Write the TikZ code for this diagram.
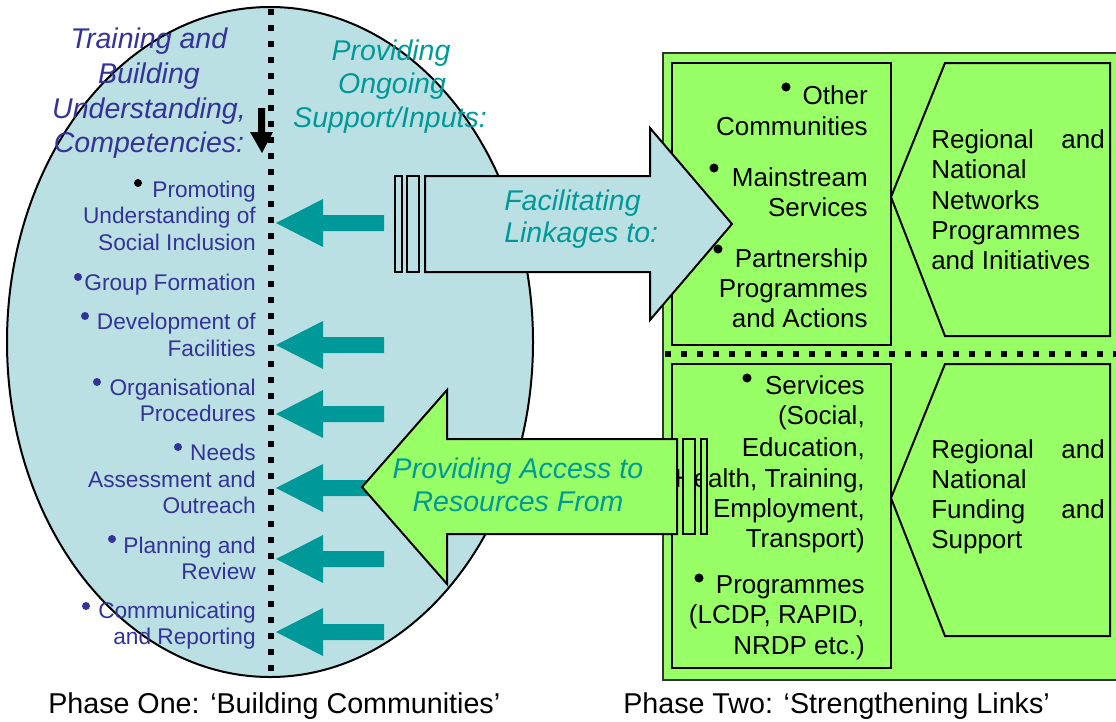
\documentclass[tikz,border=0pt]{standalone}
\usepackage{fontspec}
\setmainfont{Liberation Sans}
\definecolor{lblue}{RGB}{187,224,227}
\definecolor{lgreen}{RGB}{153,255,102}
\definecolor{tealc}{RGB}{0,153,153}
\definecolor{dblue}{RGB}{51,51,153}
\tikzset{
  lefttxt/.style={font=\fontsize{17}{20}\selectfont, text=dblue, inner sep=0pt, anchor=base east},
  righttxt/.style={font=\fontsize{19.5}{22.5}\selectfont, inner sep=0pt, anchor=base east},
  hexl/.style={font=\fontsize{19.5}{22.5}\selectfont, inner sep=0pt, anchor=base west},
  hexr/.style={font=\fontsize{19.5}{22.5}\selectfont, inner sep=0pt, anchor=base east},
  headtxt/.style={font=\fontsize{21.4}{25}\selectfont\itshape, inner sep=0pt, anchor=base},
  captxt/.style={font=\fontsize{21.5}{25}\selectfont, inner sep=0pt, anchor=base west},
  outl/.style={draw=black, line width=1.5pt},
  dotline/.style={line width=4.9pt, dash pattern=on 4.5pt off 7.5pt},
  lbul/.style={fill=dblue},
  rbul/.style={fill=black},
}
\begin{document}
\begin{tikzpicture}[x=0.75pt,y=-0.75pt]
\useasboundingbox (0,0) rectangle (1116,721);
% ellipse
\draw[outl, fill=lblue] (270,342) ellipse [x radius=197.25pt, y radius=251.25pt];
% vertical dotted line
\draw[dotline] (271,9) -- (271,680);
% black down arrow
\fill[black] (258,108) -- (265,108) -- (265,132) -- (273,132) -- (262,153) -- (250,132) -- (258,132) -- cycle;
% headings
\node[headtxt, text=dblue] (h1) at (149,48) {Training and};
\node[headtxt, text=dblue] (h2) at (149,83) {Building};
\node[headtxt, text=dblue] (h3) at (149,118) {Understanding,};
\node[headtxt, text=dblue] (h4) at (149,152) {Competencies:};
\node[headtxt, text=tealc] (p1) at (391,60) {Providing};
\node[headtxt, text=tealc] (p2) at (392,93) {Ongoing};
\node[headtxt, text=tealc] (p3) at (390,127) {Support/Inputs:};
% left items
\node[lefttxt] (a1) at (256,197) {Promoting};
\node[lefttxt] (a2) at (256,223.5) {Understanding of};
\node[lefttxt] (a3) at (256,250) {Social Inclusion};
\node[lefttxt] (b1) at (256,290) {Group Formation};
\node[lefttxt] (c1) at (256,329) {Development of};
\node[lefttxt] (c2) at (256,356) {Facilities};
\node[lefttxt] (d1) at (256,395) {Organisational};
\node[lefttxt] (d2) at (256,421) {Procedures};
\node[lefttxt] (e1) at (256,460) {Needs};
\node[lefttxt] (e2) at (256,487) {Assessment and};
\node[lefttxt] (e3) at (256,513) {Outreach};
\node[lefttxt] (f1) at (256,553) {Planning and};
\node[lefttxt] (f2) at (256,579) {Review};
\node[lefttxt] (g1) at (256,618) {Communicating};
\node[lefttxt] (g2) at (256,644) {and Reporting};
\fill[rbul] (138,183) circle [radius=3pt];
\fill[lbul] (78,277) circle [radius=3pt];
\fill[lbul] (85,316) circle [radius=3pt];
\fill[lbul] (97,382) circle [radius=3pt];
\fill[lbul] (178,447) circle [radius=3pt];
\fill[lbul] (112,539) circle [radius=3pt];
\fill[lbul] (86,606) circle [radius=3pt];
% teal arrows
\foreach \yy in {223,345,414,488,559,632}
  \fill[tealc] (276,\yy) -- (323,\yy-24) -- (323,\yy-8) -- (384,\yy-8) -- (384,\yy+8) -- (323,\yy+8) -- (323,\yy+24) -- cycle;
% right green panel
\draw[draw=black!80, line width=1.5pt, fill=lgreen] (663,53) -- (1130,53) -- (1130,680) -- (663,680) -- cycle;
\draw[outl] (672,63) rectangle (891,345);
\draw[outl] (672,364) rectangle (891,668);
\draw[outl] (891,197) -- (945,63) -- (1110,63) -- (1110,336) -- (945,336) -- cycle;
\draw[outl] (891,498) -- (945,364) -- (1110,364) -- (1110,636) -- (945,636) -- cycle;
% blue arrow
\draw[outl, fill=lblue] (425,176) -- (650,176) -- (650,128) -- (732,224) -- (650,320) -- (650,272) -- (425,272) -- cycle;
\draw[outl, fill=lblue] (395,176) rectangle (402,272);
\draw[outl, fill=lblue] (407,176) rectangle (419,272);
\node[headtxt, text=tealc, anchor=base west] (fl1) at (504,210) {Facilitating};
\node[headtxt, text=tealc, anchor=base west] (fl2) at (504,242) {Linkages to:};
% top right texts
\node[righttxt] (r1) at (868,104) {Other};
\node[righttxt] (r2) at (868,135) {Communities};
\node[righttxt] (r3) at (868,186) {Mainstream};
\node[righttxt] (r4) at (868,216) {Services};
\node[righttxt] (r5) at (868,267) {Partnership};
\node[righttxt] (r6) at (868,297) {Programmes};
\node[righttxt] (r7) at (868,327) {and Actions};
\fill[rbul] (786,87) circle [radius=3.4pt];
\fill[rbul] (714,168) circle [radius=3.4pt];
\fill[rbul] (718,249) circle [radius=3.4pt];
% horizontal dotted line
\draw[dotline] (665,354) -- (1116,354);
% bottom right texts
\node[righttxt] (s1) at (865,394) {Services};
\node[righttxt] (s2) at (865,424) {(Social,};
\node[righttxt] (s3) at (865,456) {Education,};
\node[righttxt] (s4) at (865,487) {Health, Training,};
\node[righttxt] (s5) at (865,517) {Employment,};
\node[righttxt] (s6) at (865,547) {Transport)};
\node[righttxt] (s7) at (865,593) {Programmes};
\node[righttxt] (s8) at (865,623) {(LCDP, RAPID,};
\node[righttxt] (s9) at (865,654) {NRDP etc.)};
\fill[rbul] (747,378) circle [radius=3.4pt];
\fill[rbul] (699,578) circle [radius=3.4pt];
% green arrow
\draw[outl, fill=lgreen] (677,439) -- (447,439) -- (447,390) -- (362,487) -- (447,584) -- (447,534) -- (677,534) -- cycle;
\draw[outl, fill=lgreen] (683,439) rectangle (695,534);
\draw[outl, fill=lgreen] (701,439) rectangle (707,534);
\node[headtxt, text=tealc] (pa1) at (518,478) {Providing Access to};
\node[headtxt, text=tealc] (pa2) at (518,511) {Resources From};
% hexagon texts
\node[hexl] (x1) at (931,148) {Regional};
\node[hexr] (x1b) at (1105,148) {and};
\node[hexl] (x2) at (931,178) {National};
\node[hexl] (x3) at (931,209) {Networks};
\node[hexl] (x4) at (931,239) {Programmes};
\node[hexl] (x5) at (931,269) {and Initiatives};
\node[hexl] (y1) at (931,458) {Regional};
\node[hexr] (y1b) at (1105,458) {and};
\node[hexl] (y2) at (931,488) {National};
\node[hexl] (y3) at (931,518) {Funding};
\node[hexr] (y3b) at (1105,518) {and};
\node[hexl] (y4) at (931,548) {Support};
% captions
\node[captxt] (cap1) at (48,713) {Phase One: ‘Building Communities’};
\node[captxt] (cap2) at (623,713) {Phase Two: ‘Strengthening Links’};
\end{tikzpicture}
\end{document}
